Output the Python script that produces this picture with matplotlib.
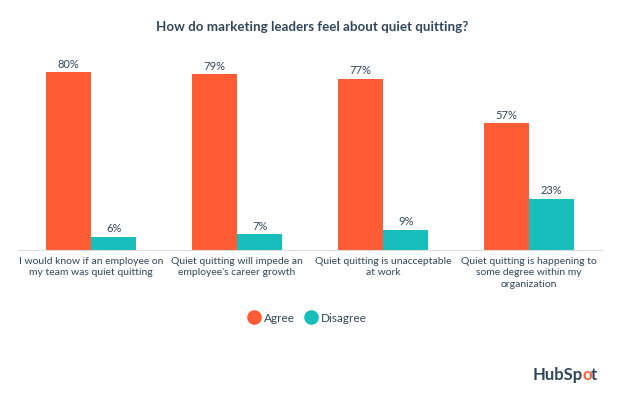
import numpy as np
import matplotlib
matplotlib.use("Agg")
import matplotlib.pyplot as plt
from matplotlib.lines import Line2D

# -*- data -*-
categories = [
    "I would know if an employee on\nmy team was quiet quitting",
    "Quiet quitting will impede an\nemployee's career growth",
    "Quiet quitting is unacceptable\nat work",
    "Quiet quitting is happening to\nsome degree within my\norganization",
]
agree = [80, 79, 77, 57]
disagree = [6, 7, 9, 23]
series_names = ["Agree", "Disagree"]

orange = "#FF5C35"
teal = "#17BEBB"
dark = "#33475B"

plt.rcParams['font.family'] = ['Lato', 'DejaVu Sans']

fig = plt.figure(figsize=(6.24, 3.95), dpi=100)
ax = fig.add_axes([18/624, 1-250/395, 584/624, 200/395])

x = np.arange(len(categories))
w = 0.31
b1 = ax.bar(x - w/2, agree, w, color=orange)
b2 = ax.bar(x + w/2, disagree, w, color=teal)

for bars, vals in [(b1, agree), (b2, disagree)]:
    for r, v in zip(bars, vals):
        ax.text(r.get_x() + r.get_width()/2, v + 1.2, f"{v}%", ha="center", va="bottom",
                fontsize=8, color=dark)

ax.set_xlim(-0.5, len(categories) - 0.5)
ax.set_ylim(0, 90)
ax.set_yticks([])
ax.set_xticks(x)
ax.set_xticklabels(categories, fontsize=7.5, color=dark, linespacing=1.35)
ax.tick_params(axis="x", length=0, pad=5)
for s in ["top", "right", "left"]:
    ax.spines[s].set_visible(False)
ax.spines["bottom"].set_color("#DDDDDD")
ax.spines["bottom"].set_linewidth(0.8)

fig.text(0.5, 1-27/395, "How do marketing leaders feel about quiet quitting?",
         ha="center", va="center", fontsize=9.6, fontweight="bold", color=dark)

handles = [Line2D([], [], marker="o", linestyle="", markersize=9.5, color=c) for c in (orange, teal)]
fig.legend(handles, series_names, loc="center", bbox_to_anchor=(0.49, 1-318/395), ncol=2,
           frameon=False, fontsize=8.5, handletextpad=0.1, columnspacing=0.6,
           handlelength=1.5, labelcolor=dark)

# logo: each piece anchored to the right edge of the previous one
prev = fig.text(533/624, 1-375/395, "HubSp", ha="left", va="center", fontsize=12,
                fontweight="bold", color=dark)
for part, col in [("o", orange), ("t", dark)]:
    prev = fig.text(0, 0, part, ha="left", va="center", fontsize=12, fontweight="bold",
                    color=col)
    prev_anchor = fig.texts[-2]
    prev.set_position((1, 0.5))
    prev.set_transform(matplotlib.transforms.offset_copy(
        matplotlib.transforms.BboxTransformTo(prev_anchor.get_window_extent(fig.canvas.get_renderer())),
        fig=fig, x=-1, y=0, units="dots"))

fig.savefig("out.png", dpi=100)
